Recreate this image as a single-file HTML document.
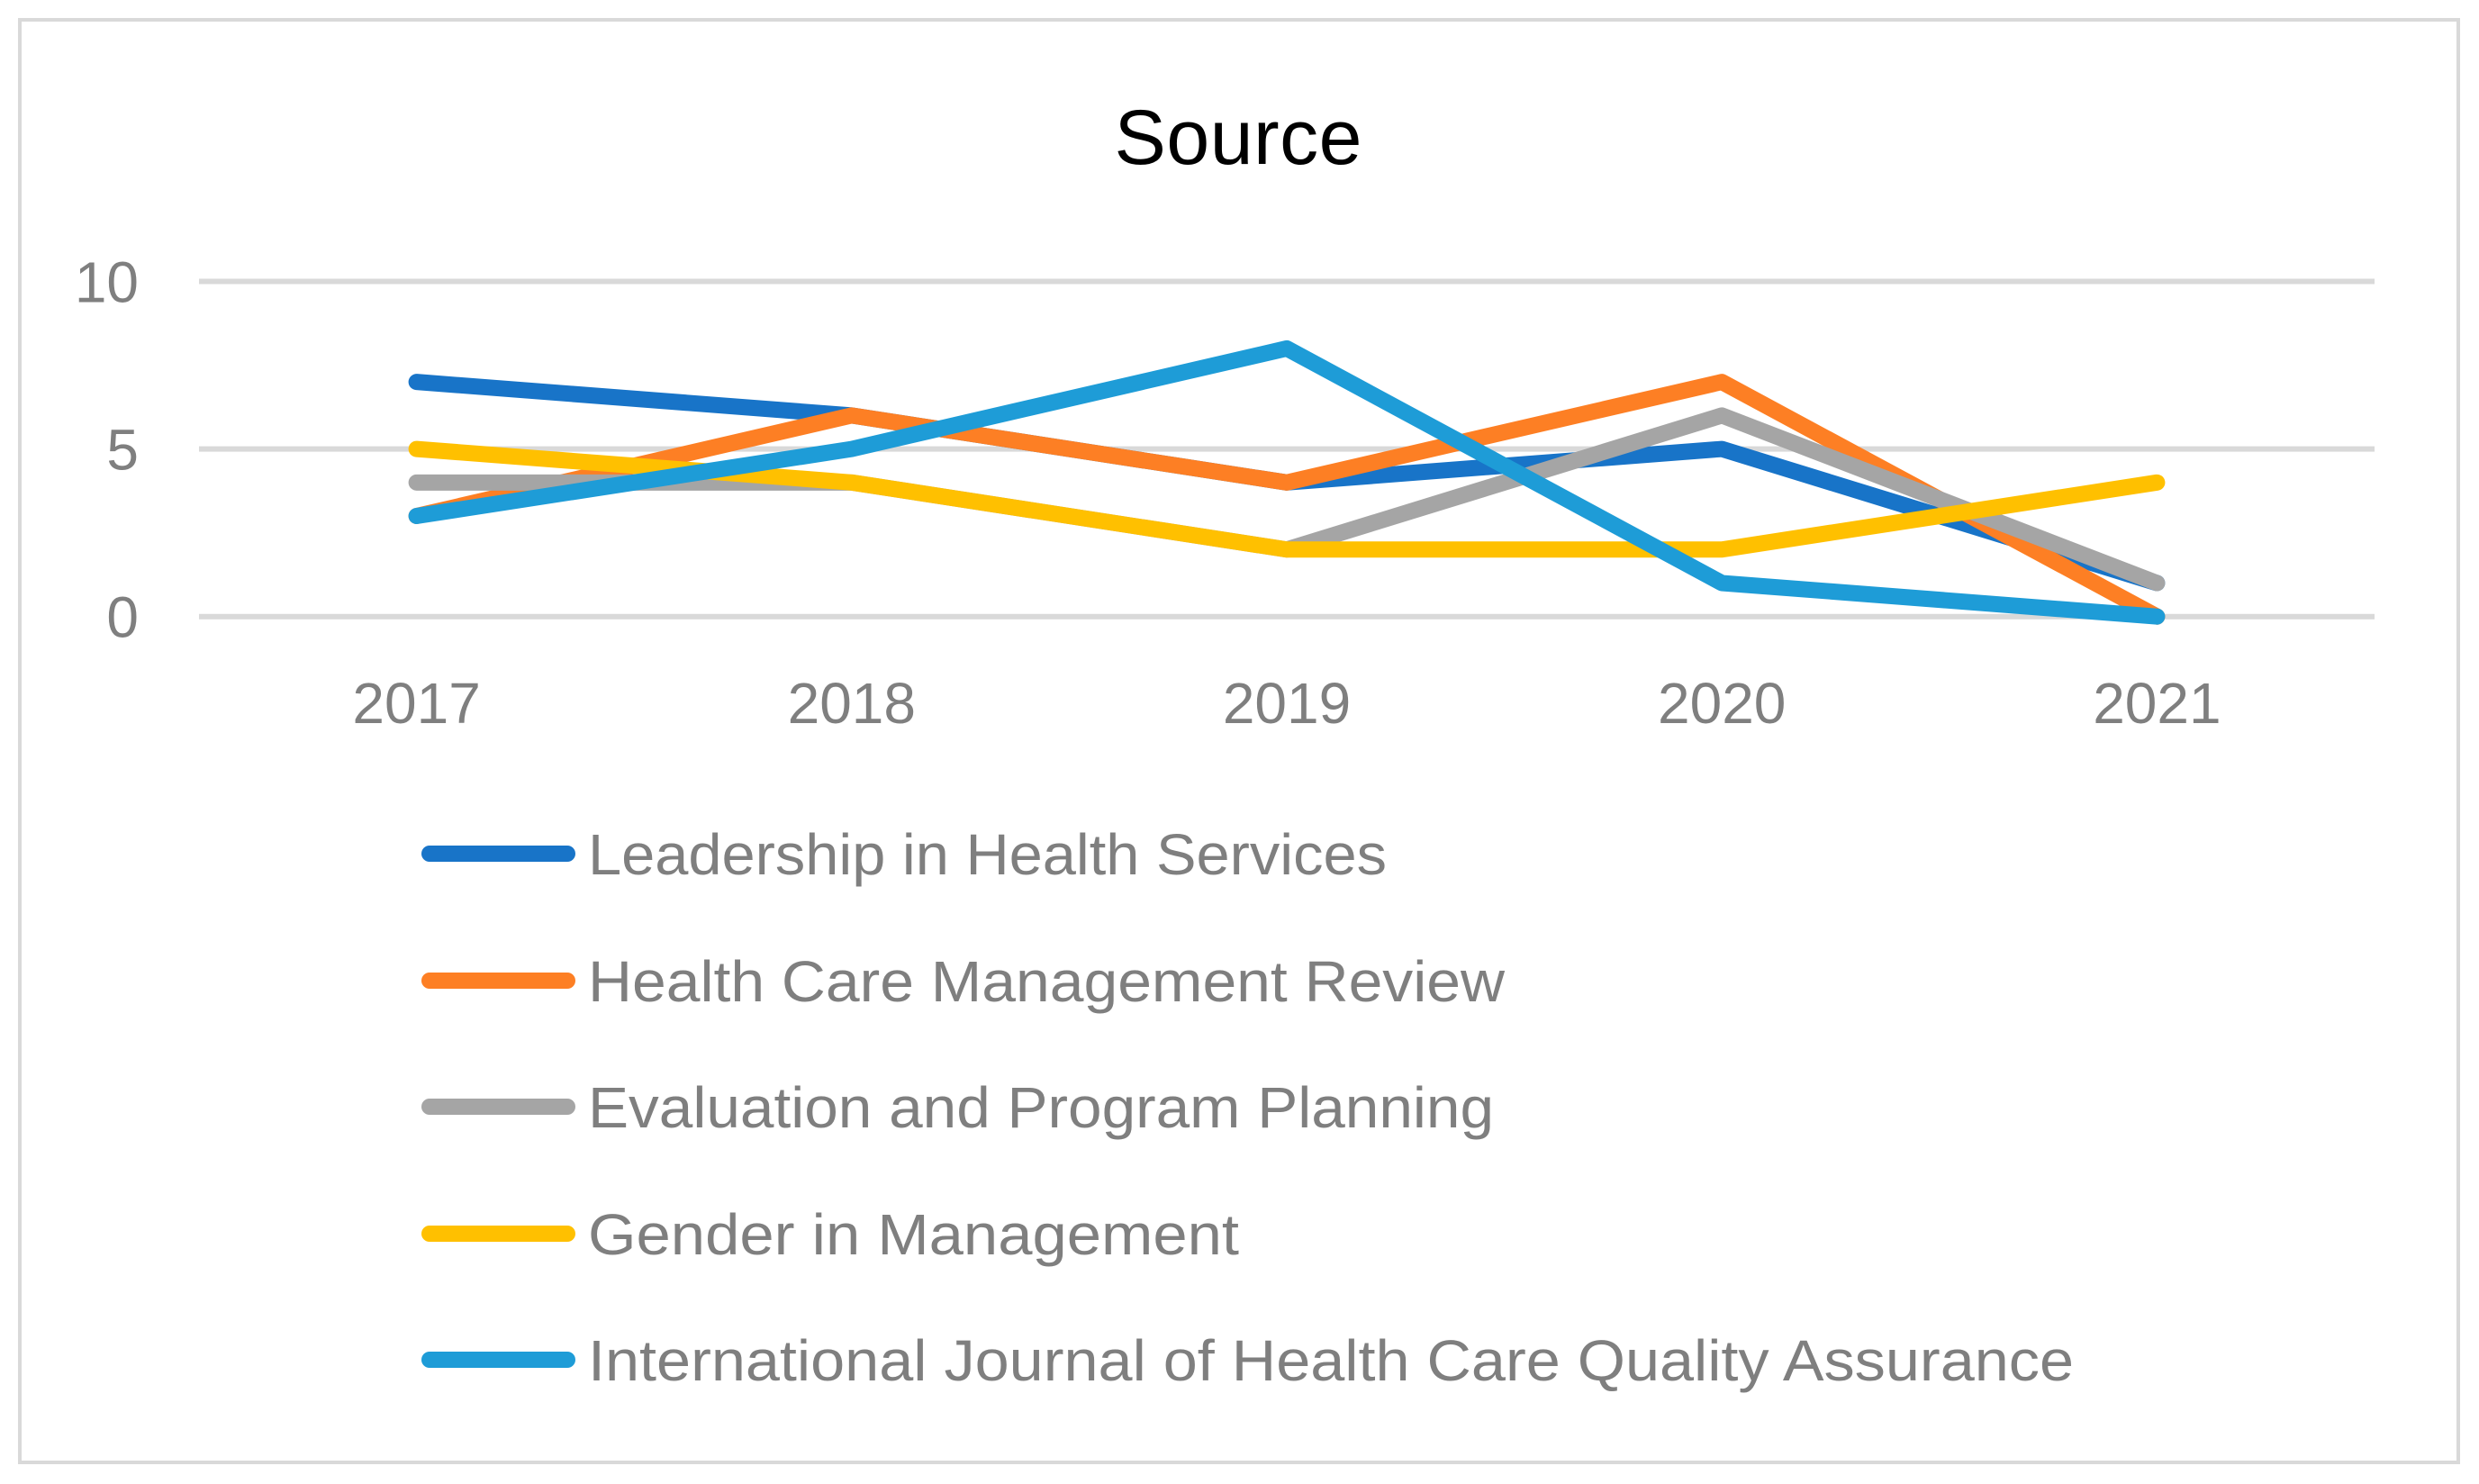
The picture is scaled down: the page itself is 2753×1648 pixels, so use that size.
<!DOCTYPE html>
<html><head><meta charset="utf-8"><style>
html,body{margin:0;padding:0;background:#fff;}
svg{display:block;font-family:"Liberation Sans",sans-serif;}
</style></head><body>
<svg id="chart" width="2753" height="1648" viewBox="0 0 2753 1648">
<rect x="22" y="22" width="2708" height="1602" fill="#fff" stroke="#d9d9d9" stroke-width="4"/>
<text x="1375" y="182" text-anchor="middle" font-size="86" fill="#000" textLength="275">Source</text>
<g id="grid"></g><g id="ylab"></g><g id="xlab"></g><g id="series"></g><g id="legend"></g>
</svg>
<script>
const categories = ["2017","2018","2019","2020","2021"];
const yTicks = [0,5,10];
const seriesNames = ["Leadership in Health Services","Health Care Management Review","Evaluation and Program Planning","Gender in Management","International Journal of Health Care Quality Assurance"];
const leadership = [7,6,4,5,1];
const hcmr = [3,6,4,7,0];
const evaluation = [4,4,2,6,1];
const gender = [5,4,2,2,4];
const ijhcqa = [3,5,8,1,0];
const colors = ["#1874C8","#FD7F24","#A5A5A5","#FFC000","#1E9CD7"];
const allSeries = [leadership,hcmr,evaluation,gender,ijhcqa];
const legendWidths = [887,1018,1006,723,1650];
const NS="http://www.w3.org/2000/svg";
const L=221,R=2637,Y0=684.7,Y10=312.5;
const y=v=>Y0+(Y10-Y0)*v/10;
const bw=(R-L)/categories.length;
const x=i=>L+bw*(i+0.5);
function mk(t,a,p){const e=document.createElementNS(NS,t);for(const k in a)e.setAttribute(k,a[k]);p.appendChild(e);return e;}
const grid=document.getElementById('grid');
const ylab=document.getElementById('ylab');
yTicks.forEach(v=>{
 const g=mk('line',{x1:L,x2:R,y1:y(v),y2:y(v),stroke:'#d9d9d9','stroke-width':6},grid);
 
 
 const t=mk('text',{x:154,y:y(v)+23,'text-anchor':'end','font-size':64,fill:'#7f7f7f'},ylab);
 t.textContent=v;
 
 
});
const xlab=document.getElementById('xlab');
categories.forEach((c,i)=>{
 const t=mk('text',{x:x(i),y:803,'text-anchor':'middle','font-size':64,fill:'#7f7f7f'},xlab);
 t.textContent=c;
 
 
});
const sg=document.getElementById('series');
allSeries.forEach((s,k)=>{
 const pts=s.map((v,i)=>x(i)+','+y(v)).join(' ');
 const p=mk('polyline',{points:pts,fill:'none',stroke:colors[k],'stroke-width':18,'stroke-linecap':'round','stroke-linejoin':'round'},sg);
 
 
});
const lg=document.getElementById('legend');
const rows=[948,1089,1229,1370,1510];
seriesNames.forEach((n,k)=>{
 const g=mk('g',{},lg);
 
 
 mk('line',{x1:477,x2:630,y1:rows[k],y2:rows[k],stroke:colors[k],'stroke-width':18,'stroke-linecap':'round'},g);
 const t=mk('text',{x:653,y:rows[k]+23,'font-size':64,fill:'#7f7f7f',textLength:legendWidths[k],lengthAdjust:'spacingAndGlyphs'},g);
 t.textContent=n;
});
</script>
</body></html>
